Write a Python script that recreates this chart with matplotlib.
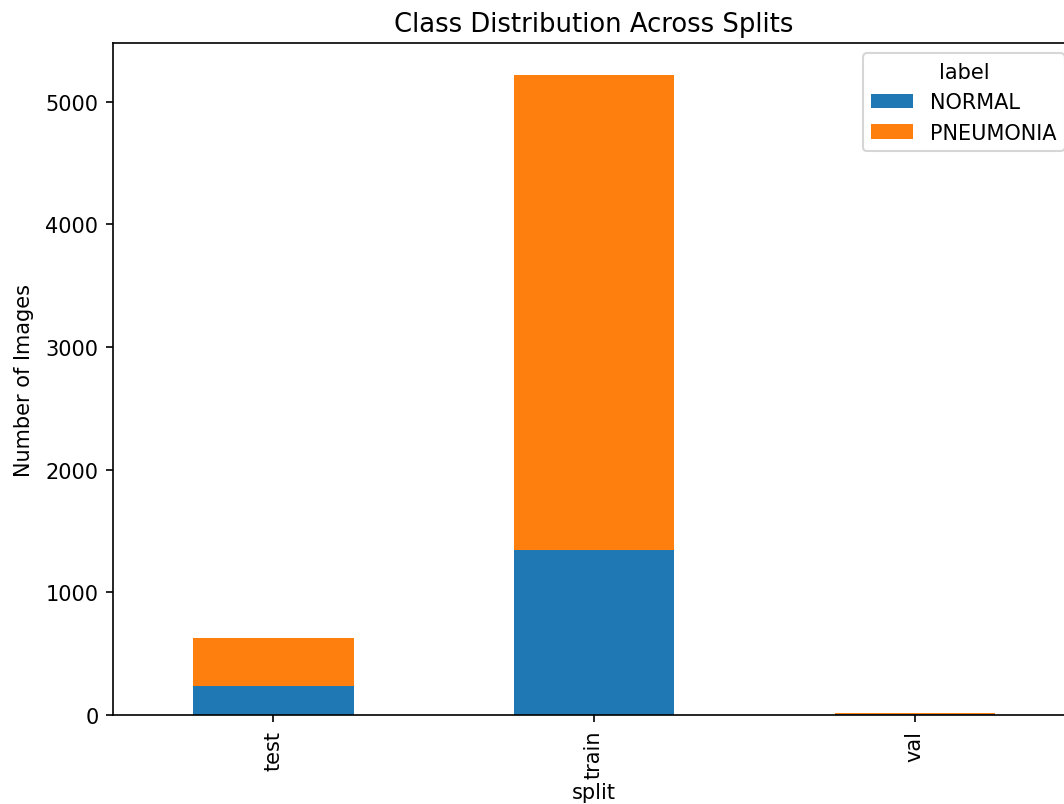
import pandas as pd
import matplotlib
matplotlib.use('Agg')
import matplotlib.pyplot as plt

splits = ['test', 'train', 'val']
normal = [234, 1341, 8]
pneumonia = [390, 3875, 8]

DPI = 150


def graph(counts):
    fig = plt.figure(figsize=(1064 / DPI, 805 / DPI), dpi=DPI)
    # axes run past the right edge, like the cropped original
    ax = fig.add_axes([113 / 1064, 1 - 716 / 805, (1075 - 113) / 1064, (716 - 44) / 805])
    counts.plot(kind='bar', stacked=True, ax=ax, color=['#1f77b4', '#ff7f0e'])
    ax.set_title('Class Distribution Across Splits', fontsize=12.4)
    ax.set_ylabel('Number of Images', labelpad=5.5)
    ax.set_xlabel('split', labelpad=2)
    ax.legend(title='label', loc='upper right')
    fig.savefig('out.png', dpi=DPI)


def main():
    counts = pd.DataFrame({'NORMAL': normal, 'PNEUMONIA': pneumonia}, index=splits)
    counts.index.name = 'split'
    counts.columns.name = 'label'
    graph(counts)


if __name__ == '__main__':
    main()
